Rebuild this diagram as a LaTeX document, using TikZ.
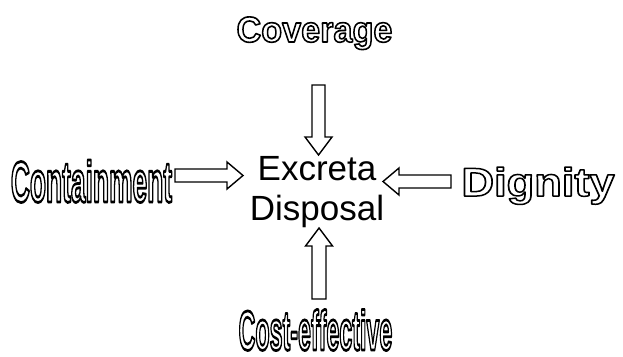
\documentclass[tikz,border=0pt]{standalone}
\usepackage{fontspec}
\setmainfont{Liberation Sans}
\newcommand\outlinetext[2][1.1]{\special{pdf:literal direct q 1 Tr #1 w 1 j}#2\special{pdf:literal direct Q}}
\tikzset{
  blockarrow/.style={draw=black, line width=1.4pt, fill=white, line join=miter},
  owordart/.style={inner sep=0pt, anchor=base, font=\bfseries, transform shape},
}
\begin{document}
\begin{tikzpicture}[x=1pt,y=-1pt]
\useasboundingbox (0,0) rectangle (623,356);
% centre
\node[inner sep=0pt, align=center, font=\fontsize{35}{40}\selectfont, anchor=base] (ed) at (317,220) {Excreta\\Disposal};
% labels
\node[owordart, font=\bfseries\fontsize{36}{36}\selectfont, xscale=0.95] (cov) at (314.5,42) {\outlinetext[1.6]{Coverage}};
\node[owordart, font=\bfseries\fontsize{58}{58}\selectfont, xscale=0.455] (con) at (91.5,202) {\outlinetext[2.8]{Containment}};
\node[owordart, font=\bfseries\fontsize{40}{40}\selectfont, xscale=1.13] (dig) at (538,196) {\outlinetext[1.5]{Dignity}};
\node[owordart, font=\bfseries\fontsize{56}{56}\selectfont, xscale=0.415] (cost) at (315.5,350) {\outlinetext[2.8]{Cost-effective}};
% arrow anchor points
\coordinate (tA) at (318.5,85);
\coordinate (bA) at (319,299);
\coordinate (lA) at (175,175.5);
\coordinate (rA) at (451,181.5);
% top arrow (down)
\draw[blockarrow] (tA) ++(-6.5,0) -- ++(13,0) -- ++(0,52) -- ++(7,0) -- (318.5,155) -- (305,137) -- ++(7,0) -- cycle;
% bottom arrow (up)
\draw[blockarrow] (bA) ++(-7,0) -- ++(14,0) -- ++(0,-53) -- ++(6.5,0) -- (319,228) -- (305.5,246) -- ++(6.5,0) -- cycle;
% left arrow (right-pointing)
\draw[blockarrow] (lA) ++(0,-6.5) -- ++(52,0) -- ++(0,-7) -- (243,175.5) -- (227,189) -- ++(0,-7) -- ++(-52,0) -- cycle;
% right arrow (left-pointing)
\draw[blockarrow] (rA) ++(0,-6.5) -- ++(-52,0) -- ++(0,-7) -- (383,181.5) -- (399,195) -- ++(0,-7) -- ++(52,0) -- cycle;
\end{tikzpicture}
\end{document}
